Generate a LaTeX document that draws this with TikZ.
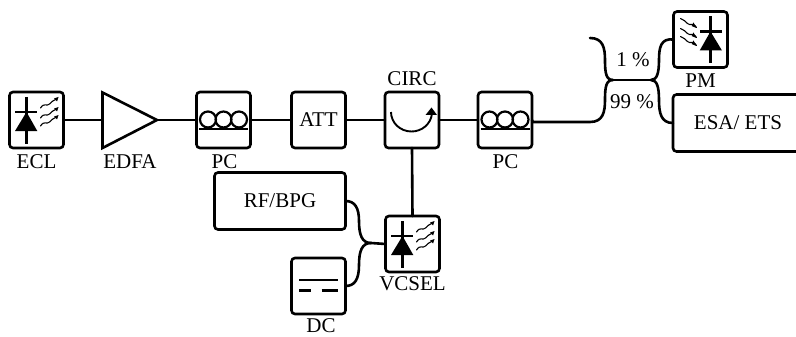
\documentclass[tikz,border=0pt]{standalone}
\usepackage{fontspec}
\setmainfont{Liberation Serif}
\tikzset{
  wire/.style={line width=2.6pt,line cap=round,line join=round},
  box/.style={draw,line width=2.6pt,rounded corners=3.5pt,inner sep=0pt,outer sep=0pt,font=\fontsize{21}{21}\selectfont},
  sq/.style={box,minimum width=54pt,minimum height=56pt},
  wide/.style={box,minimum width=131pt,minimum height=57pt},
  lbl/.style={inner sep=0pt,outer sep=0pt,font=\fontsize{21}{21}\selectfont},
  wave/.style={line width=1.1pt,line cap=round}
}
% laser icon; #1 = node name, #2 = 1 (arrows leave to the right) or -1 (arrows come in from the left)
\newcommand{\diodeicon}[2]{%
  \begin{scope}[shift={(#1.center)},xscale=#2]
    \draw[line width=2.2pt] (-10,-23) -- (-10,24);
    \draw[line width=2.2pt] (-21.5,-8) -- (0.5,-8);
    \fill (-10,-8) -- (0.8,11) -- (-21.5,11) -- cycle;
    \foreach \yy in {-12,-2,6}{
      \draw[wave] (4,\yy) .. controls (8,\yy-6) and (10,\yy-1) .. (13,\yy-4)
                  .. controls (15,\yy-7) and (17,\yy-7) .. (20,\yy-9);
    }
    \ifnum#2=1
      \foreach \yy in {-12,-2,6}{\fill (22,\yy-11) -- (20.5,\yy-6.5) -- (17.5,\yy-9.5) -- cycle;}
    \else
      \foreach \yy in {-12,-2,6}{\fill (4,\yy+0.5) -- (7,\yy-5) -- (9,\yy-1.5) -- cycle;}
    \fi
  \end{scope}}
\newcommand{\pcicon}[1]{%
  \begin{scope}[shift={(#1.center)}]
    \draw[line width=2.2pt] (-15.5,-0.5) circle (8) (0,-0.5) circle (8) (15.5,-0.5) circle (8);
    \draw[line width=2.2pt] (-24.5,9) -- (24.5,9);
  \end{scope}}
\begin{document}
\begin{tikzpicture}[x=1pt,y=-1pt]
\useasboundingbox (0,0) rectangle (796,337);
\begin{scope}
\clip (0,0) rectangle (796,337);
% boxes
\node[sq] (ecl) at (36.5,120) {};
\node[sq] (pc1) at (223.5,120) {};
\node[sq] (att) at (318.5,120) {ATT};
\node[sq] (circ) at (412,120) {};
\node[sq] (pc2) at (505,120) {};
\node[sq] (pm) at (700.5,39.5) {};
\node[box,minimum width=140pt,minimum height=57pt] (esa) at (743,123) {};
\node[wide] (rf) at (280,201) {RF/BPG};
\node[sq] (dc) at (318.5,286) {};
\node[sq] (vcsel) at (412.5,244) {};
% amplifier
\coordinate (edfaL) at (102.5,120);
\coordinate (edfaR) at (157,120);
\draw[wire,line join=miter] (102.5,92.5) -- (157,120) -- (102.5,148) -- cycle;
% icons
\diodeicon{ecl}{1}
\diodeicon{vcsel}{1}
\diodeicon{pm}{-1}
\pcicon{pc1}
\pcicon{pc2}
\begin{scope}[shift={(circ.center)}]
  \draw[line width=1.9pt] (-21,-8) arc (180:5:20.5 and 19.5);
  \fill (19.5,-12.5) -- (25,-5) -- (13.5,-5) -- cycle;
\end{scope}
\begin{scope}[shift={(dc.center)}]
  \draw[line width=2.2pt] (-19.5,-6) -- (19.5,-6);
  \draw[line width=2.2pt] (-19.5,4.5) -- (-7.5,4.5);
  \draw[line width=2.2pt] (3,4.5) -- (19.5,4.5);
\end{scope}
% connectors
\draw[wire] (ecl.east) -- (edfaL);
\draw[wire] (edfaR) -- (pc1.west);
\draw[wire] (pc1.east) -- (att.west);
\draw[wire] (att.east) -- (circ.west);
\draw[wire] (circ.east) -- (pc2.west);
\draw[wire] (circ.south) -- (vcsel.north);
% coupler
\coordinate (cl) at (613,80);
\coordinate (cr) at (651,80);
\coordinate (in2) at (590,38);
\coordinate (in1) at (590,122);
\draw[wire] (cl) -- (cr);
\draw[wire] (pc2.east) -- (533,122) -- (in1) .. controls (603,122) and (605,112) .. (605,100) .. controls (605,87) and (606,80) .. (cl);
\draw[wire] (in2) .. controls (603,38) and (605,48) .. (605,60) .. controls (605,73) and (606,80) .. (cl);
\draw[wire] (cr) .. controls (657,80) and (659,73) .. (659,60) .. controls (659,47) and (661,38) .. (pm.west);
\draw[wire] (cr) .. controls (657,80) and (659,87) .. (659,100) .. controls (659,113) and (661,123) .. (esa.west);
% combiner
\coordinate (j) at (371,243);
\draw[wire] (j) -- (vcsel.west);
\draw[wire] (rf.east) .. controls (355,201) and (359,208) .. (359,221) .. controls (359,235) and (362,243) .. (j);
\draw[wire] (dc.east) .. controls (355,286) and (359,279) .. (359,265) .. controls (359,251) and (362,243) .. (j);
\end{scope}
% labels
\node[lbl] (lecl) at (36.5,162) {ECL};
\node[lbl] (ledfa) at (130,162) {EDFA};
\node[lbl] (lpc1) at (224.5,162) {PC};
\node[lbl] (lcirc) at (412,79) {CIRC};
\node[lbl] (lpc2) at (505.5,162) {PC};
\node[lbl] (lpm) at (700.5,81) {PM};
\node[lbl] (lvcsel) at (412.5,284) {VCSEL};
\node[lbl] (ldc) at (321,326) {DC};
\node[lbl] (l1) at (633,60) {1 \%};
\node[lbl] (l99) at (632,102) {99 \%};
\node[lbl] (lesa) at (738,123) {ESA/ ETS};
\end{tikzpicture}
\end{document}
